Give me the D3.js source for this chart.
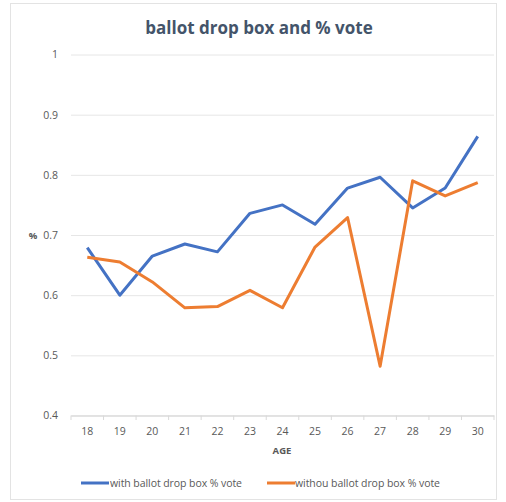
<!DOCTYPE html>
<html><head><meta charset="utf-8">
<script src="https://cdn.jsdelivr.net/npm/d3@7"></script>
<style>body{margin:0;background:#fff}svg{display:block}</style>
</head><body>
<script>
const ages = ["18","19","20","21","22","23","24","25","26","27","28","29","30"];
const withBox = [0.679,0.600,0.665,0.685,0.672,0.736,0.750,0.718,0.778,0.796,0.745,0.778,0.864];
const withoutBox = [0.663,0.655,0.622,0.579,0.581,0.608,0.579,0.680,0.729,0.482,0.790,0.765,0.787];
const yTicks = [0.4,0.5,0.6,0.7,0.8,0.9,1];
const seriesNames = ["with ballot drop box % vote","withou ballot drop box % vote"];
const colors = ["#4472c4","#ed7d31"];

const W=506,H=502;
const svg=d3.select("body").append("svg").attr("width",W).attr("height",H);
svg.append("rect").attr("x",10.5).attr("y",3.5).attr("width",486).attr("height",496)
  .attr("fill","#fff").attr("stroke","#e3e3e3");

const x=d3.scaleBand().domain(ages).range([71,494]);
const y=d3.scaleLinear().domain([0.4,1]).range([415.5,54.5]);
const font="'Open Sans', 'DejaVu Sans', sans-serif";

svg.append("text").attr("x",259).attr("y",34).attr("text-anchor","middle")
  .attr("font-family",font).attr("font-weight","bold").attr("font-size",17)
  .attr("fill","#44546a").text("ballot drop box and % vote");

const yAxis=d3.axisLeft(y).tickValues(yTicks).tickSize(-(494-71)).tickFormat(d=>d3.format("")(d));
const gy=svg.append("g").attr("transform","translate(71,0)").call(yAxis);
gy.select(".domain").remove();
gy.selectAll(".tick line").attr("stroke","#e6e6e6");
gy.selectAll(".tick text").attr("x",-13).attr("font-family",font).attr("font-size",10.5).attr("fill","#595959");
gy.selectAll(".tick").filter(d=>d===0.4).select("line").attr("stroke","#d9d9d9");

const xAxis=d3.axisBottom(x).tickSize(0).tickPadding(12);
const gx=svg.append("g").attr("transform","translate(0,415.5)").call(xAxis);
gx.select(".domain").attr("stroke","#d9d9d9");
gx.selectAll(".tick text").attr("font-family",font).attr("font-size",10.5).attr("fill","#595959");
svg.append("g").selectAll("line").data(ages.concat(["end"])).join("line")
  .attr("x1",(d,i)=>i<ages.length? x(d): x.range()[1]).attr("x2",(d,i)=>i<ages.length? x(d): x.range()[1])
  .attr("y1",415.5).attr("y2",420).attr("stroke","#d9d9d9");

svg.append("text").attr("x",282).attr("y",453.5).attr("text-anchor","middle")
  .attr("font-family",font).attr("font-weight","bold").attr("font-size",9.5).attr("fill","#595959").text("AGE");
svg.append("text").attr("x",33).attr("y",238.5).attr("text-anchor","middle")
  .attr("font-family",font).attr("font-weight","bold").attr("font-size",9.5).attr("fill","#595959").text("%");

const line=d3.line().x((d,i)=>x(ages[i])+x.bandwidth()/2).y(d=>y(d));
[withBox,withoutBox].forEach((s,k)=>{
  svg.append("path").datum(s).attr("d",line).attr("fill","none")
    .attr("stroke",colors[k]).attr("stroke-width",3).attr("stroke-linejoin","round");
});

const lg=[{x0:81,tx:110,w:132},{x0:267,tx:295,w:145}];
lg.forEach((l,k)=>{
  svg.append("line").attr("x1",l.x0).attr("x2",l.x0+28).attr("y1",483).attr("y2",483)
    .attr("stroke",colors[k]).attr("stroke-width",3);
  svg.append("text").attr("x",l.tx).attr("y",486.5).attr("font-family",font).attr("font-size",10.5)
    .attr("textLength",l.w).attr("lengthAdjust","spacing")
    .attr("fill","#595959").text(seriesNames[k]);
});
</script>
</body></html>
